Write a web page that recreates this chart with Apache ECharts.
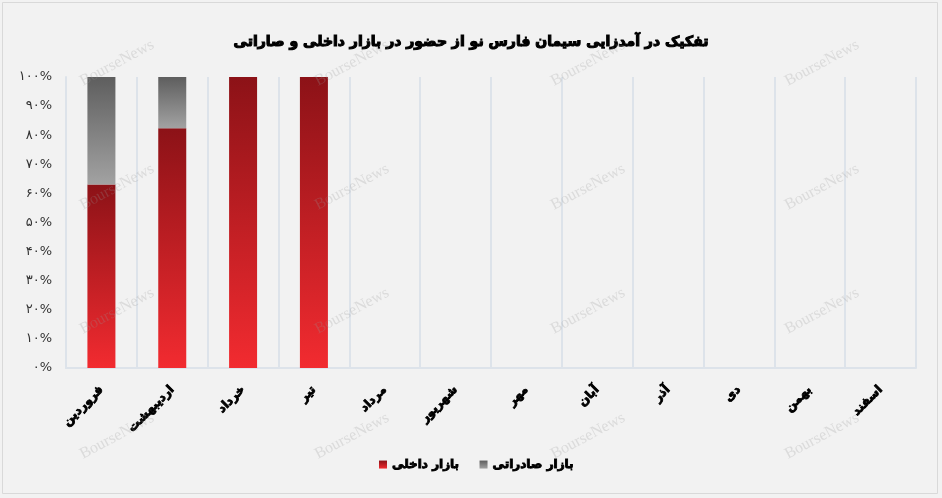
<!DOCTYPE html>
<html>
<head>
<meta charset="utf-8">
<script src="https://cdn.jsdelivr.net/npm/echarts@6/dist/echarts.min.js"></script>
<style>
html,body{margin:0;padding:0;background:#f2f2f2;}
#c{width:942px;height:498px;}
</style>
</head>
<body>
<div id="c"></div>
<script>
const title = 'تفکیک در آمدزایی سیمان فارس نو از حضور در بازار داخلی و صاراتی';
const categories = ['فروردین','اردیبهشت','خرداد','تیر','مرداد','شهریور','مهر','آبان','آذر','دی','بهمن','اسفند'];
const seriesNames = ['بازار داخلی','بازار صادراتی'];
const domestic = [0.631, 0.824, 1, 1, null, null, null, null, null, null, null, null];
const exportShare = [0.369, 0.176, 0, 0, null, null, null, null, null, null, null, null];
const yTickLabels = ['۰%','۱۰%','۲۰%','۳۰%','۴۰%','۵۰%','۶۰%','۷۰%','۸۰%','۹۰%','۱۰۰%'];

const chart = echarts.init(document.getElementById('c'), null, {renderer:'canvas'});
const wmX = [117, 352, 588, 822];
const wmY = [63, 187, 311, 436];
const graphics = [{
  type:'rect', shape:{x:2.5,y:2.5,width:935,height:491},
  style:{fill:null, stroke:'#d9d9d9', lineWidth:1}, z:-1, silent:true
}];
wmX.forEach(x => wmY.forEach(y => {
  graphics.push({
    type:'text', x:x, y:y, rotation: 28*Math.PI/180, z:100, silent:true,
    style:{text:'BourseNews', font:'16px "Liberation Serif"', fill:'rgba(150,150,150,0.25)', align:'center', verticalAlign:'middle'}
  });
}));

const option = {
  backgroundColor:'#f2f2f2',
  animation:false,
  title:{
    text:title, left:'center', top:30,
    textStyle:{fontFamily:'DejaVu Sans', fontWeight:'bold', fontSize:14, color:'#000',
      textBorderColor:'#000', textBorderWidth:1.1}
  },
  legend:{
    data:seriesNames, bottom:22, left:374, itemWidth:8, itemHeight:8, itemGap:20,
    icon:'rect',
    textStyle:{fontFamily:'DejaVu Sans', fontWeight:'bold', fontSize:12, color:'#000',
      textBorderColor:'#000', textBorderWidth:0.9}
  },
  grid:{left:66, right:26, top:77, bottom:130, containLabel:false},
  xAxis:{
    type:'category', data:categories,
    axisLine:{show:true, lineStyle:{color:'#dde3ea', width:2}},
    axisTick:{show:false},
    splitLine:{show:true, lineStyle:{color:'#dde3ea', width:2}},
    axisLabel:{rotate:45, interval:0, margin:20, fontFamily:'DejaVu Sans', fontWeight:'bold', fontSize:12, color:'#000',
      textBorderColor:'#000', textBorderWidth:0.9}
  },
  yAxis:{
    type:'value', min:0, max:1, interval:0.1,
    axisLine:{show:true, lineStyle:{color:'#dde3ea', width:2}},
    axisTick:{show:false},
    splitLine:{show:false},
    axisLabel:{margin:14, fontFamily:'DejaVu Sans', fontSize:13, color:'#333',
      formatter:(v,i)=>yTickLabels[Math.round(v*10)]}
  },
  series:[
    {name:seriesNames[0], type:'bar', stack:'s', data:domestic, barWidth:28,
      itemStyle:{color:new echarts.graphic.LinearGradient(0,0,0,1,[{offset:0,color:'#8c1217'},{offset:1,color:'#f22b30'}])}},
    {name:seriesNames[1], type:'bar', stack:'s', data:exportShare, barWidth:28,
      itemStyle:{color:new echarts.graphic.LinearGradient(0,0,0,1,[{offset:0,color:'#5e5e5e'},{offset:1,color:'#a2a2a2'}])}}
  ],
  graphic:graphics
};
chart.setOption(option);
</script>
</body>
</html>
